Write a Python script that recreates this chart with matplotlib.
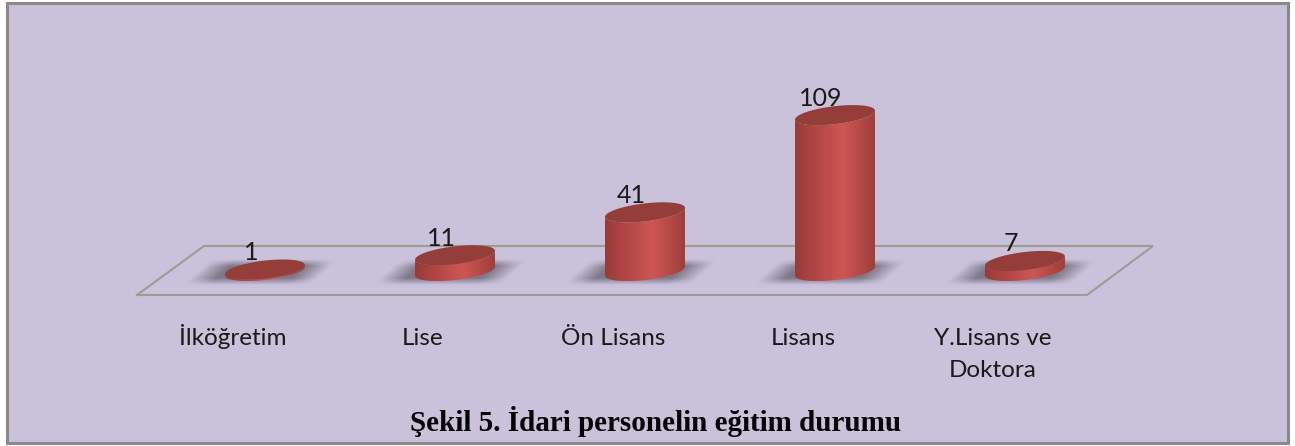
import matplotlib
matplotlib.use("Agg")
import matplotlib.pyplot as plt
import numpy as np
from matplotlib.patches import PathPatch, Rectangle
from matplotlib.path import Path

categories = ['İlköğretim', 'Lise', 'Ön Lisans', 'Lisans', 'Y.Lisans ve\nDoktora']
values = [1, 11, 41, 109, 7]
title = 'Şekil 5. İdari personelin eğitim durumu'

W, H = 1295, 446
BG = '#cac1da'
TOP = '#943d39'
EDGE_DARK = np.array([0.60, 0.23, 0.22])
MID = np.array([0.81, 0.34, 0.33])

# the category axis: first bar centre, spacing, baseline and px per unit
X0, DX = 265.0, 190.0
Y0, PER_UNIT = 271.0, 1.43
RX, RY, SHEAR = 40.0, 9.0, 4.5

# the 3d floor pushes the category labels left of the bar centres
LABEL_DX = -32
LINE_STEP = 32

fig = plt.figure(figsize=(W / 100, H / 100), dpi=100, facecolor='white')
fig.add_artist(Rectangle((6.5 / W, 3 / H), (1287.5 - 6.5) / W, (443 - 3) / H,
                         transform=fig.transFigure, fc=BG, ec='#8a8a8a', lw=2.2,
                         zorder=-1))
ax = fig.add_axes([0, 0, 1, 1])
ax.patch.set_visible(False)
ax.set_xlim(-X0 / DX, (W - X0) / DX)
ax.set_ylim((Y0 - H) / PER_UNIT, Y0 / PER_UNIT)
ax.axis('off')


def sx(px):
    return px / DX


def sy(px):
    return px / PER_UNIT


def px_x(px):
    return (px - X0) / DX


def px_y(py):
    return (Y0 - py) / PER_UNIT


def ell(cx, cy, t):
    # sheared ellipse, the right side sits a bit higher
    return (cx + sx(RX) * np.cos(t),
            cy + sy(RY) * np.sin(t) + sy(SHEAR) * np.cos(t))


def draw_shadow(i):
    # soft streak on the floor behind the bar
    xs = np.linspace(i - sx(85), i + sx(85), 200)
    ys = np.linspace(sy(-20), sy(20), 60)
    gx, gy = np.meshgrid(xs, ys)
    u = (gx - i) / sx(1) + 3
    v = gy / sy(1)
    u = u - v * 1.1
    a = np.clip((64 - np.abs(u)) / 26, 0, 1) * np.clip((13 - np.abs(v + 1)) / 7, 0, 1)
    rgba = np.zeros(a.shape + (4,))
    rgba[..., :3] = (0.42, 0.40, 0.46)
    rgba[..., 3] = a * 0.8
    ax.imshow(rgba, extent=[xs[0], xs[-1], ys[0], ys[-1]], origin='lower',
              aspect='auto', zorder=2, interpolation='bilinear')


def draw_bar(i, v):
    h = v
    t_low = np.linspace(np.pi, 2 * np.pi, 60)
    bx, by = ell(i, 0, t_low)
    tx, ty = ell(i, h, t_low[::-1])
    verts = np.column_stack([np.r_[bx, tx], np.r_[by, ty]])
    body = PathPatch(Path(verts), fc='none', ec='none', zorder=3)
    ax.add_patch(body)
    grad_t = np.linspace(0, 1, 128)
    c = np.interp(grad_t, [0, 0.6, 1], [0, 1, 0.1])[:, None]
    grad = (EDGE_DARK + (MID - EDGE_DARK) * c)[None, :, :]
    ymin, ymax = verts[:, 1].min(), verts[:, 1].max()
    im = ax.imshow(grad, extent=[i - sx(RX), i + sx(RX), ymin, ymax],
                   aspect='auto', zorder=3, interpolation='bilinear')
    im.set_clip_path(body)
    t = np.linspace(0, 2 * np.pi, 100)
    cx, cy = ell(i, h, t)
    ax.fill(cx, cy, color=TOP, lw=0, zorder=4)


# plate on the floor
floor_x = [137, 1087, 1153, 204, 137]
floor_y = [295, 295, 246, 246, 295]
ax.plot([px_x(p) for p in floor_x], [px_y(p) for p in floor_y],
        color='#9c9c94', lw=1.5, zorder=1, solid_joinstyle='miter')

for i, v in enumerate(values):
    draw_shadow(i)
    draw_bar(i, v)
    ax.text(i - sx(14), v + sy(9.5), str(v), ha='center', va='baseline',
            fontsize=18, family='Lato', color='#1a1a1a', zorder=5)
    for n, line in enumerate(categories[i].split('\n')):
        ax.text(i + sx(LABEL_DX), px_y(345 + n * LINE_STEP), line, ha='center',
                va='baseline', fontsize=17.5, family='Lato', color='#1a1a1a', zorder=5)

ax.set_xlim(-X0 / DX, (W - X0) / DX)
ax.set_ylim((Y0 - H) / PER_UNIT, Y0 / PER_UNIT)

ax.text(px_x(656), px_y(431), title, ha='center', va='baseline', fontsize=21,
        family='Liberation Serif', weight='bold', color='black', zorder=5)

fig.savefig('out.png', dpi=100, facecolor='white')
